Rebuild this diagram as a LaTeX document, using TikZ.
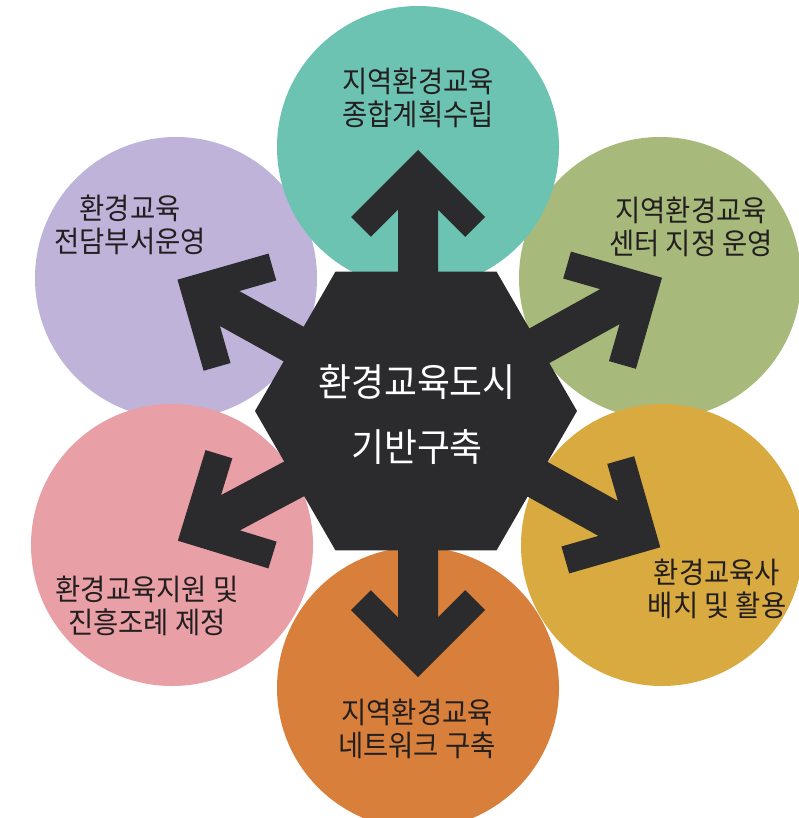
\documentclass[tikz,border=0pt]{standalone}
\usepackage{fontspec}
\newfontfamily\kr[FakeStretch=0.93]{Noto Sans CJK KR}
\definecolor{cteal}{HTML}{6DC3B2}
\definecolor{cpurple}{HTML}{C0B3DA}
\definecolor{cgreen}{HTML}{A8BA7B}
\definecolor{cpink}{HTML}{E99FA6}
\definecolor{cgold}{HTML}{D8AA40}
\definecolor{corange}{HTML}{D8803B}
\definecolor{cdark}{HTML}{2B2A2C}
\definecolor{ctext}{HTML}{231F20}
\tikzset{
  circ/.style={circle, minimum size=282pt, inner sep=0pt, draw=none},
  lbl/.style={align=center, text=ctext, inner sep=0pt, font=\kr\fontsize{29.5}{33}\selectfont},
  ctr/.style={align=center, text=white, inner sep=0pt, font=\kr\fontsize{38.5}{65}\selectfont},
  pics/bigarrow/.style={code={
    \fill[cdark] (0,20) -- ({#1-59.6},20) -- ({#1-86.8},47.2) -- ({#1-67},67) -- (#1,0)
      -- ({#1-67},-67) -- ({#1-86.8},-47.2) -- ({#1-59.6},-20) -- (0,-20) -- cycle;
  }}
}
\begin{document}
\begin{tikzpicture}[x=1pt,y=1pt]
\useasboundingbox (0,0) rectangle (798,-818);
\fill[white] (0,0) rectangle (798,-818);
% circles
\node[circ, fill=cpurple] (c2) at (176,-278) {};
\node[circ, fill=cpink] (c3) at (172,-545) {};
\node[circ, fill=cgreen] (c6) at (660,-278) {};
\node[circ, fill=cgold] (c5) at (662,-545) {};
\node[circ, fill=cteal] (c1) at (418,-147) {};
\node[circ, fill=corange] (c4) at (418,-688) {};
% arrows
\coordinate (o) at (418,-413);
\pic[rotate=90] at (o) {bigarrow=263};
\pic[rotate=270] at (o) {bigarrow=264};
\pic[rotate=29] at (o) {bigarrow=279};
\pic[rotate=151] at (o) {bigarrow=275};
\pic[rotate=208] at (o) {bigarrow=272};
\pic[rotate=331] at (o) {bigarrow=277};
% hexagon
\coordinate (hc) at (416,-411);
\fill[cdark] (hc) ++(0:161) -- ++(120:161) -- ++(180:161) -- ++(240:161) -- ++(300:161) -- ++(0:161) -- cycle;
% texts
\node[ctr] (center) at (417,-415) {환경교육도시\\기반구축};
\node[lbl] (t1) at (418,-98) {지역환경교육\\종합계획수립};
\node[lbl] (t2) at (130,-225) {환경교육\\전담부서운영};
\node[lbl] (t6) at (691,-227) {지역환경교육\\센터 지정 운영};
\node[lbl] (t3) at (147,-606) {환경교육지원 및\\진흥조례 제정};
\node[lbl] (t5) at (717,-589) {환경교육사\\배치 및 활용};
\node[lbl] (t4) at (417,-729) {지역환경교육\\네트워크 구축};
\end{tikzpicture}
\end{document}
